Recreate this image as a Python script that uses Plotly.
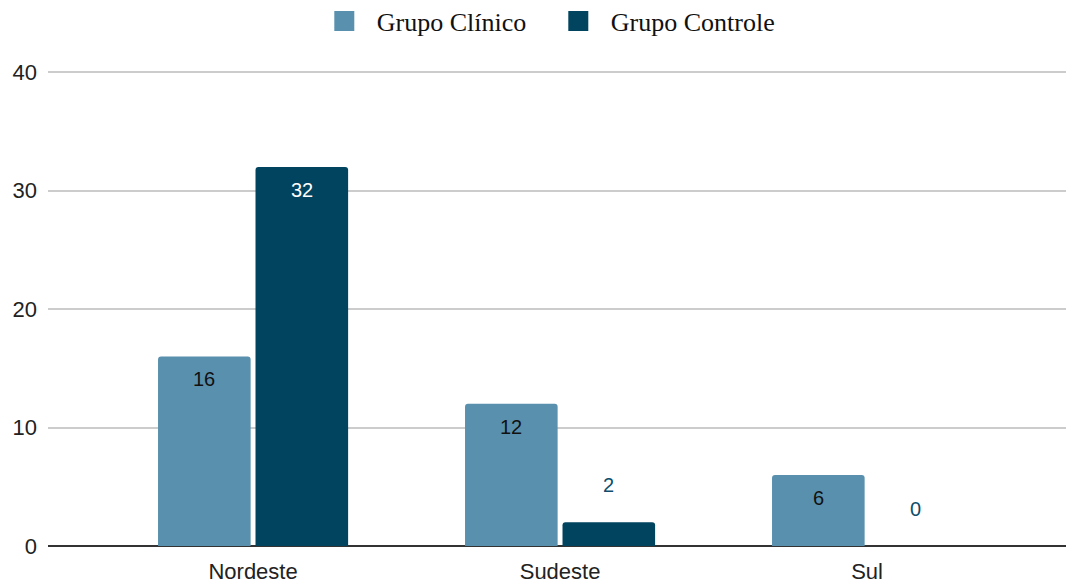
import plotly.graph_objects as go

categories = ["Nordeste", "Sudeste", "Sul"]
series_names = ["Grupo Clínico", "Grupo Controle"]
clinico = [16, 12, 6]
controle = [32, 2, 0]
y_ticks = [0, 10, 20, 30, 40]

colors = ["#5990AE", "#01445F"]
inside_text_colors = ["#111111", "#FFFFFF"]
outside_text_color = "#0E4D6B"

BARGAP = 0.365
GROUPGAP = 0.05

fig = go.Figure()
for name, vals, col in zip(series_names, [clinico, controle], colors):
    fig.add_trace(go.Bar(
        x=categories, y=vals, name=name, showlegend=False,
        marker=dict(color=col, cornerradius=3, line=dict(width=0)),
        hoverinfo="x+y",
    ))
# legend entries with larger square symbols
for name, col in zip(series_names, colors):
    fig.add_trace(go.Scatter(
        x=[None], y=[None], mode="markers", name=name,
        marker=dict(symbol="square", size=22, color=col, line=dict(width=4, color=col)),
        showlegend=True,
    ))

# value labels
annotations = []
for s, vals in enumerate([clinico, controle]):
    offset = (-1 if s == 0 else 1) * (1 - BARGAP) / 4
    for i, v in enumerate(vals):
        inside = v >= 5
        annotations.append(dict(
            x=i + offset, y=v, xref="x", yref="y",
            text=str(v), showarrow=False,
            yshift=-23 if inside else 37,
            font=dict(family="Liberation Sans, Arial", size=20,
                      color=inside_text_colors[s] if inside else outside_text_color),
        ))

fig.update_layout(
    width=1067, height=583,
    margin=dict(l=48, r=1, t=71, b=37, autoexpand=False),
    paper_bgcolor="white", plot_bgcolor="white",
    barmode="group", bargap=BARGAP, bargroupgap=GROUPGAP,
    font=dict(family="Liberation Sans, Arial", size=22, color="#222222"),
    legend=dict(
        orientation="h", x=0.489, xanchor="center",
        yref="container", y=0.964, yanchor="middle",
        font=dict(family="Liberation Serif, Times New Roman", size=26, color="#111111"),
        itemsizing="trace", itemwidth=55, entrywidth=164, tracegroupgap=0,
        bgcolor="rgba(0,0,0,0)",
    ),
    annotations=annotations,
    showlegend=True,
)
fig.update_xaxes(
    type="category", range=[-0.668, 2.648],
    showgrid=False, showline=False, ticks="",
    tickfont=dict(family="Liberation Sans, Arial", size=22, color="#222222"),
    ticklabelstandoff=10,
)
fig.update_yaxes(
    range=[0, 40.1], tickvals=y_ticks,
    showgrid=True, gridcolor="#CCCCCC", gridwidth=1.5,
    zeroline=True, zerolinecolor="#333333", zerolinewidth=2,
    showline=False, ticks="",
    tickfont=dict(family="Liberation Sans, Arial", size=22, color="#222222"),
    ticklabelstandoff=10,
)

fig.write_html("out.html")
